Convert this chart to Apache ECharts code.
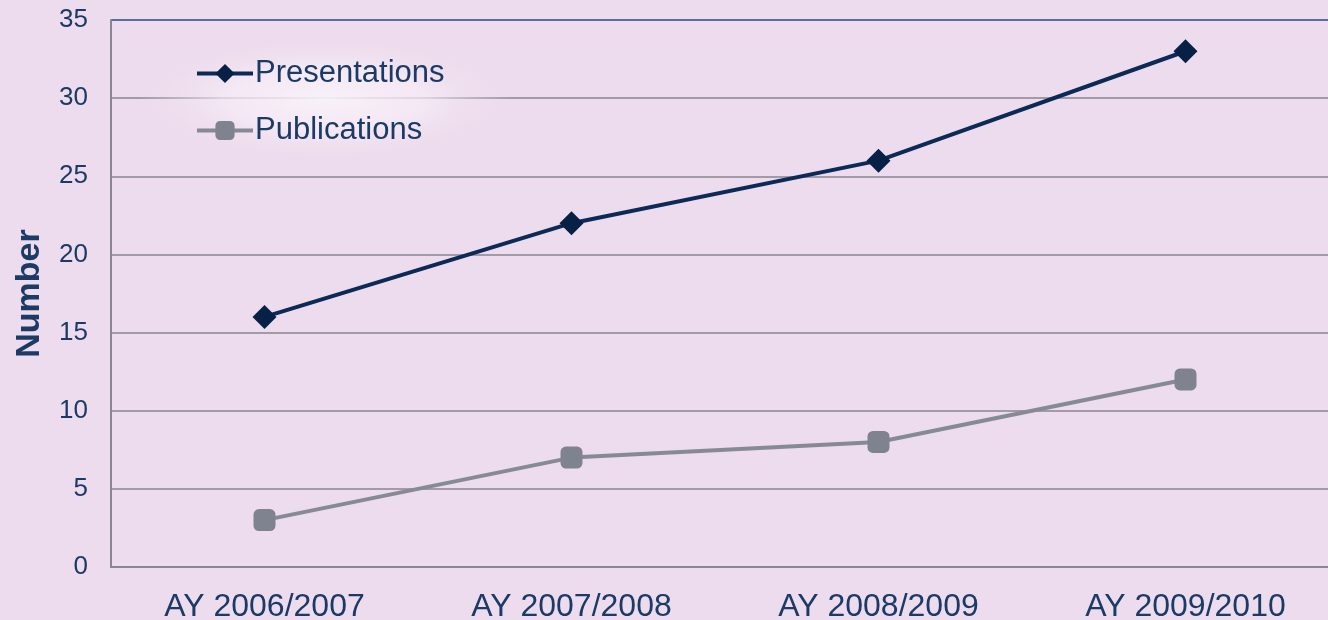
<!DOCTYPE html>
<html>
<head>
<meta charset="utf-8">
<script src="https://cdn.jsdelivr.net/npm/echarts@6/dist/echarts.min.js"></script>
<style>
  html, body { margin: 0; padding: 0; background: #eddced; }
  #main { width: 1328px; height: 620px; }
</style>
</head>
<body>
<div id="main"></div>
<script>
const categories = ['AY 2006/2007', 'AY 2007/2008', 'AY 2008/2009', 'AY 2009/2010']
const presentations = [16, 22, 26, 33]
const publications = [3, 7, 8, 12]

const textColor = '#1b3a66'
const chart = echarts.init(document.getElementById('main'))

const option = {
  backgroundColor: '#eddced',
  textStyle: { fontFamily: 'Arial, Liberation Sans, sans-serif' },
  grid: { left: 111, width: 1228, top: 20, bottom: 53, outerBoundsMode: 'none', containLabel: false },
  graphic: [
    {
      type: 'circle',
      shape: { cx: 0, cy: 0, r: 62 },
      x: 325,
      y: 99,
      scaleX: 3.0,
      style: {
        fill: {
          type: 'radial', x: 0.5, y: 0.5, r: 0.5,
          colorStops: [
            { offset: 0, color: 'rgba(250,244,250,0.9)' },
            { offset: 0.55, color: 'rgba(246,236,246,0.7)' },
            { offset: 1, color: 'rgba(237,220,237,0)' }
          ]
        }
      },
      z: 5
    }
  ],
  legend: {
    left: 190,
    top: 53,
    orient: 'vertical',
    itemGap: 26,
    itemWidth: 56,
    itemHeight: 24,
    z: 10,
    lineStyle: { width: 4 },
    textStyle: { fontSize: 31, color: textColor, padding: [0, 0, 0, -3] },
    data: ['Presentations', 'Publications']
  },
  xAxis: {
    type: 'category',
    data: categories,
    axisLine: { lineStyle: { color: '#8a8590', width: 2 } },
    axisTick: { show: false },
    axisLabel: { fontSize: 32, color: textColor, margin: 24 }
  },
  yAxis: {
    type: 'value',
    min: 0,
    max: 35,
    interval: 5,
    name: 'Number',
    nameLocation: 'middle',
    nameGap: 64,
    nameTextStyle: { fontSize: 34, fontWeight: 'bold', color: textColor },
    axisLine: { show: true, lineStyle: { color: '#8a8590', width: 2 } },
    axisTick: { show: false },
    axisLabel: { fontSize: 26, color: textColor, margin: 23 },
    splitLine: {
      lineStyle: {
        color: ['#8a8590', '#8a8590', '#8a8590', '#8a8590', '#8a8590', '#8a8590', '#8a8590', '#2a4a78'],
        width: 1.5
      }
    }
  },
  series: [
    {
      name: 'Presentations',
      type: 'line',
      data: presentations,
      symbol: 'diamond',
      symbolSize: 24,
      z: 3,
      lineStyle: { color: '#0b2a55', width: 4 },
      itemStyle: { color: '#062046' }
    },
    {
      name: 'Publications',
      type: 'line',
      data: publications,
      symbol: 'roundRect',
      symbolSize: 22,
      z: 3,
      lineStyle: { color: '#868a96', width: 4 },
      itemStyle: { color: '#7f8390' }
    }
  ]
}

chart.setOption(option)
</script>
</body>
</html>
